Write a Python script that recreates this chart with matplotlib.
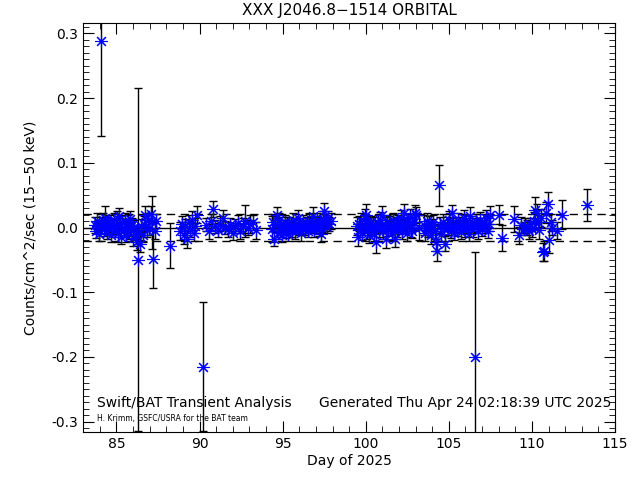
import numpy as np
import matplotlib
matplotlib.use('Agg')
import matplotlib.pyplot as plt
from matplotlib.ticker import MultipleLocator

# light curve, one row per orbit: day, rate, error
day_a = [83.72, 83.78, 83.85, 83.91, 83.98, 84.05, 84.10, 84.18, 84.24, 84.31,
         84.37, 84.44, 84.50, 84.57, 84.63, 84.70, 84.77, 84.83, 84.90, 84.96,
         85.03, 85.10, 85.16, 85.23, 85.29, 85.36, 85.43, 85.49, 85.56, 85.62,
         85.69, 85.76, 85.82, 85.89, 85.95, 86.02, 86.08, 86.15, 86.22, 86.30,
         86.36, 86.43, 86.50, 86.58, 86.66, 86.74, 86.82, 86.90, 86.98, 87.06,
         87.14, 87.22, 87.30, 87.38, 88.20]
rate_a = [0.004, -0.006, 0.010, 0.002, -0.010, 0.006, 0.288, 0.012, -0.003, 0.015,
          0.004, -0.008, 0.009, -0.002, 0.007, -0.012, 0.003, 0.011, -0.005, 0.001,
          0.014, -0.009, 0.018, 0.005, -0.014, 0.008, -0.004, 0.010, -0.011, 0.002,
          0.006, -0.007, 0.013, -0.002, 0.004, -0.016, 0.001, -0.010, -0.022, -0.050,
          -0.008, -0.025, 0.003, -0.012, 0.006, 0.020, -0.004, 0.012, 0.000, 0.021,
          0.008, -0.049, -0.005, 0.010, -0.028]
err_a = [0.012, 0.010, 0.012, 0.009, 0.011, 0.010, 0.146, 0.011, 0.010, 0.018,
         0.012, 0.010, 0.011, 0.009, 0.012, 0.011, 0.010, 0.012, 0.009, 0.011,
         0.012, 0.013, 0.012, 0.010, 0.012, 0.011, 0.010, 0.012, 0.011, 0.009,
         0.013, 0.010, 0.012, 0.011, 0.010, 0.012, 0.011, 0.010, 0.012, 0.265,
         0.011, 0.013, 0.010, 0.011, 0.012, 0.014, 0.010, 0.011, 0.012, 0.013,
         0.041, 0.045, 0.012, 0.011, 0.035]

day_b = [88.85, 88.95, 89.05, 89.15, 89.25, 89.35, 89.45, 89.55, 89.65, 89.75,
         89.85, 90.22, 90.40, 90.55, 90.70, 90.80, 90.95, 91.10, 91.25, 91.40,
         91.55, 91.70, 91.85, 92.00, 92.15, 92.30, 92.45, 92.60, 92.75, 92.90,
         93.05, 93.20, 93.40]
rate_b = [-0.005, 0.006, -0.012, 0.002, -0.018, 0.008, -0.004, 0.012, -0.009, 0.003,
          0.020, -0.215, 0.004, -0.006, 0.010, 0.029, 0.002, -0.004, 0.006, 0.015,
          0.000, -0.003, 0.004, -0.008, 0.002, 0.007, -0.006, 0.003, 0.010, 0.000,
          0.006, 0.008, -0.004]
err_b = [0.014, 0.012, 0.013, 0.011, 0.014, 0.012, 0.011, 0.013, 0.012, 0.011,
         0.013, 0.100, 0.010, 0.012, 0.011, 0.012, 0.010, 0.011, 0.012, 0.012,
         0.010, 0.011, 0.010, 0.012, 0.011, 0.013, 0.012, 0.011, 0.025, 0.012,
         0.014, 0.012, 0.013]

day_c = [94.35, 94.42, 94.50, 94.57, 94.64, 94.71, 94.78, 94.85, 94.92, 94.99,
         95.06, 95.13, 95.20, 95.27, 95.34, 95.41, 95.48, 95.55, 95.62, 95.69,
         95.76, 95.83, 95.90, 95.97, 96.04, 96.11, 96.18, 96.25, 96.32, 96.39,
         96.46, 96.53, 96.60, 96.67, 96.74, 96.81, 96.88, 96.95, 97.02, 97.09,
         97.16, 97.23, 97.30, 97.37, 97.44, 97.51, 97.58, 97.65, 97.72, 97.80,
         97.88]
rate_c = [-0.002, 0.008, -0.017, 0.004, 0.020, -0.008, 0.012, -0.003, 0.006, -0.012,
          0.002, 0.009, -0.006, 0.004, -0.010, 0.007, 0.000, -0.004, 0.011, 0.003,
          -0.007, 0.005, 0.015, -0.002, 0.001, -0.009, 0.004, 0.008, -0.003, 0.002,
          0.006, -0.005, 0.010, 0.000, 0.004, 0.018, -0.004, 0.007, 0.002, 0.011,
          -0.002, 0.006, -0.010, 0.004, 0.013, 0.026, 0.008, 0.001, 0.014, 0.005,
          0.010]
err_c = [0.020, 0.013, 0.012, 0.011, 0.012, 0.010, 0.011, 0.012, 0.010, 0.011,
         0.009, 0.011, 0.010, 0.012, 0.011, 0.010, 0.009, 0.011, 0.012, 0.010,
         0.011, 0.009, 0.012, 0.010, 0.011, 0.012, 0.010, 0.011, 0.009, 0.010,
         0.011, 0.010, 0.012, 0.009, 0.011, 0.013, 0.010, 0.011, 0.010, 0.012,
         0.011, 0.010, 0.012, 0.011, 0.012, 0.012, 0.011, 0.010, 0.012, 0.011,
         0.012]

day_d = [99.45, 99.52, 99.59, 99.66, 99.73, 99.80, 99.87, 99.94, 100.01, 100.08,
         100.15, 100.22, 100.29, 100.36, 100.43, 100.50, 100.57, 100.64, 100.71, 100.78,
         100.85, 100.92, 100.99, 101.06, 101.13, 101.20, 101.27, 101.34, 101.41, 101.48,
         101.55, 101.62, 101.69, 101.76, 101.83, 101.90, 101.97, 102.04, 102.11, 102.18,
         102.25, 102.32, 102.39, 102.46, 102.53, 102.60, 102.67, 102.74, 102.81, 102.88,
         102.95, 103.05, 103.20]
rate_d = [0.002, -0.015, 0.006, -0.004, 0.010, -0.008, 0.003, 0.015, 0.020, -0.006,
          0.004, -0.012, 0.008, -0.002, 0.005, -0.010, 0.001, -0.023, 0.007, -0.004,
          0.012, 0.002, 0.020, -0.006, 0.004, -0.018, 0.009, -0.003, 0.006, 0.000,
          -0.008, 0.011, 0.003, -0.018, 0.005, -0.004, 0.008, 0.001, 0.014, -0.006,
          0.006, 0.023, 0.002, -0.009, 0.010, 0.004, 0.016, -0.003, -0.005, 0.008,
          0.022, 0.019, 0.000]
err_d = [0.014, 0.013, 0.012, 0.011, 0.012, 0.011, 0.010, 0.013, 0.017, 0.012,
         0.011, 0.012, 0.010, 0.011, 0.012, 0.011, 0.010, 0.016, 0.012, 0.011,
         0.012, 0.010, 0.013, 0.011, 0.012, 0.013, 0.011, 0.010, 0.012, 0.011,
         0.012, 0.011, 0.010, 0.012, 0.011, 0.010, 0.012, 0.011, 0.013, 0.012,
         0.010, 0.013, 0.011, 0.012, 0.011, 0.010, 0.012, 0.011, 0.011, 0.012,
         0.013, 0.012, 0.020]

day_e = [103.50, 103.58, 103.66, 103.74, 103.82, 103.90, 103.98, 104.06, 104.14, 104.22,
         104.30, 104.38, 104.46, 104.54, 104.62, 104.70, 104.78, 104.86, 104.94, 105.02,
         105.10, 105.18, 105.26, 105.34, 105.42, 105.50, 105.58, 105.66, 105.74, 105.82,
         105.90, 105.98, 106.06, 106.14, 106.22, 106.30, 106.38, 106.46, 106.55, 106.62,
         106.70, 106.78, 106.86, 106.94, 107.02, 107.10, 107.18, 107.26, 107.34, 107.42,
         107.50]
rate_e = [0.004, -0.008, 0.010, -0.004, 0.006, -0.012, 0.002, 0.008, -0.006, -0.022,
          -0.036, 0.065, 0.004, -0.010, 0.009, -0.003, -0.025, 0.006, 0.000, 0.012,
          -0.005, 0.022, 0.003, -0.008, 0.007, -0.002, 0.010, 0.001, -0.007, 0.005,
          0.014, -0.004, 0.008, 0.002, -0.010, 0.018, 0.004, -0.003, -0.200, 0.010,
          0.003, -0.006, 0.012, 0.005, -0.002, 0.009, 0.001, 0.014, -0.005, 0.006,
          0.020]
err_e = [0.015, 0.013, 0.012, 0.011, 0.012, 0.013, 0.011, 0.012, 0.011, 0.014,
         0.015, 0.032, 0.012, 0.011, 0.012, 0.010, 0.012, 0.011, 0.012, 0.013,
         0.011, 0.013, 0.011, 0.012, 0.010, 0.011, 0.012, 0.010, 0.011, 0.012,
         0.013, 0.011, 0.012, 0.010, 0.011, 0.014, 0.011, 0.012, 0.162, 0.011,
         0.012, 0.011, 0.012, 0.010, 0.011, 0.012, 0.010, 0.013, 0.011, 0.012,
         0.014]

day_f = [108.00, 108.20, 108.90, 109.20, 109.35, 109.50, 109.60, 109.70, 109.80, 109.90,
         110.00, 110.10, 110.20, 110.28, 110.35, 110.45, 110.55, 110.68, 110.75, 110.82,
         110.95, 111.05, 111.12, 111.20, 111.50, 111.80, 113.30]
rate_f = [0.020, -0.016, 0.013, -0.012, 0.004, -0.002, 0.003, 0.000, -0.006, 0.005,
          -0.003, 0.010, 0.027, 0.022, 0.008, -0.004, 0.015, -0.038, -0.036, 0.023,
          0.037, -0.020, 0.008, 0.000, -0.005, 0.020, 0.035]
err_f = [0.015, 0.020, 0.020, 0.013, 0.012, 0.010, 0.011, 0.012, 0.011, 0.010,
         0.012, 0.014, 0.020, 0.014, 0.012, 0.013, 0.014, 0.014, 0.015, 0.016,
         0.018, 0.020, 0.013, 0.012, 0.013, 0.022, 0.025]

day = np.array(day_a + day_b + day_c + day_d + day_e + day_f)
rate = np.array(rate_a + rate_b + rate_c + rate_d + rate_e + rate_f)
err = np.array(err_a + err_b + err_c + err_d + err_e + err_f)

mean_level = 0.0
sigma_level = 0.0215

fig = plt.figure(figsize=(6.4, 4.8), dpi=100)
ax = fig.add_axes([0.13, 0.1, 0.831, 0.852])

ax.errorbar(day, rate, yerr=err, fmt='none', ecolor='black', elinewidth=1,
            capsize=3, capthick=1, zorder=2)
# IDL style asterisk: plus and cross on top of each other
ax.plot(day, rate, marker=(8, 2, 0), color='blue', markersize=9,
        markeredgewidth=0.8, linestyle='none', zorder=3)

ax.axhline(mean_level, color='black', lw=1)
ax.axhline(sigma_level, color='black', lw=1, ls=(0, (6, 4)))
ax.axhline(-sigma_level, color='black', lw=1, ls=(0, (6, 4)))

ax.set_xlim(83, 115)
ax.set_ylim(-0.316, 0.316)
ax.xaxis.set_major_locator(MultipleLocator(5))
ax.xaxis.set_minor_locator(MultipleLocator(1))
ax.yaxis.set_major_locator(MultipleLocator(0.1))
ax.yaxis.set_minor_locator(MultipleLocator(0.01))
ax.yaxis.set_major_formatter(matplotlib.ticker.FormatStrFormatter('%.1f'))
ax.tick_params(which='both', direction='in', top=True, right=True, labelsize=10)
ax.tick_params(which='major', length=8)
ax.tick_params(which='minor', length=4)

ax.set_title('XXX J2046.8\u22121514 ORBITAL', fontsize=11, pad=6)
ax.set_xlabel('Day of 2025', fontsize=10, labelpad=2)
ax.set_ylabel('Counts/cm^2/sec (15\u221250 keV)', fontsize=10, labelpad=10)

ax.text(0.026, 0.071, 'Swift/BAT Transient Analysis', transform=ax.transAxes,
        fontsize=10, va='center', ha='left')
ax.text(0.993, 0.071, 'Generated Thu Apr 24 02:18:39 UTC 2025', transform=ax.transAxes,
        fontsize=10, va='center', ha='right')
ax.text(0.026, 0.034, 'H. Krimm, GSFC/USRA for the BAT team', transform=ax.transAxes,
        fontsize=5.5, va='center', ha='left')

fig.savefig('out.png', dpi=100)
